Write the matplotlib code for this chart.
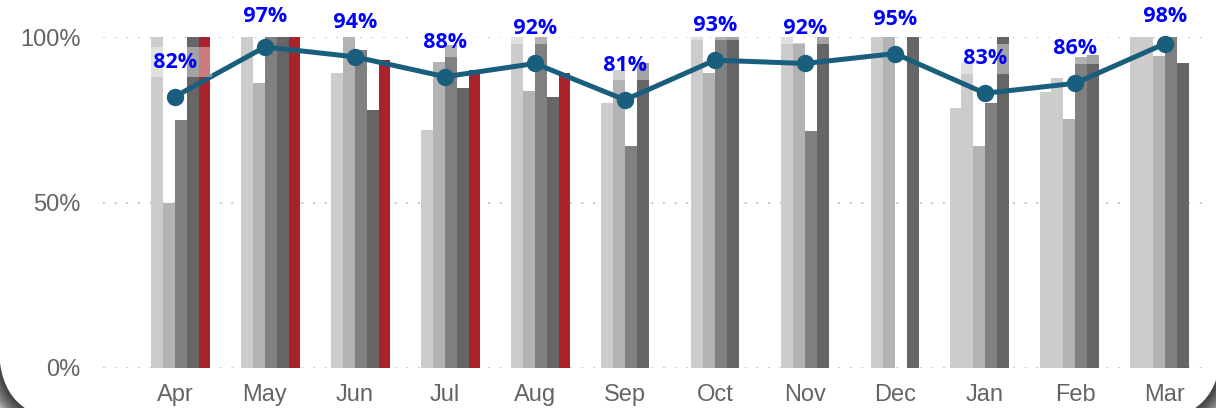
import matplotlib
matplotlib.use("Agg")
import matplotlib.pyplot as plt
from matplotlib.patches import FancyBboxPatch
import numpy as np

# months and the six bar series (None = no bar that month)
months = ["Apr", "May", "Jun", "Jul", "Aug", "Sep", "Oct", "Nov", "Dec", "Jan", "Feb", "Mar"]
s1 = [None, None, None, None, None, None, None, None, None, 78.5, 83.5, 100]
s2 = [100, 100, 89, 72, 100, 80, 100, 100, 100, 92.5, 87.7, 100]
s3 = [50, 86, 100, 92.4, 83.6, 90, 89, 98.3, 100, 67, 75.2, 94.2]
s4 = [75, 100, 96, 97.6, 100, 67, 100, 71.7, None, 80.2, 94, 100]
s5 = [100, 100, 78, 84.6, 82, 92, 100, 100, 100, 100, 94.7, 92]
s6 = [100, 100, 93, 90, 89, None, None, None, None, None, None, None]
# overall line
overall = [82, 97, 94, 88, 92, 81, 93, 92, 95, 83, 86, 98]

bar_series = [s1, s2, s3, s4, s5, s6]
bar_colors = ["#cccccc", "#cccccc", "#b3b3b3", "#808080", "#666666", "#a8232b"]
line_color = "#1a5e7e"

W, H = 1216, 408
fig = plt.figure(figsize=(W / 100, H / 100), dpi=100, facecolor="#d8d8d8")

# background card with a soft shadow at the corners
bg = fig.add_axes([0, 0, 1, 1], zorder=-5)
bg.set_xlim(0, W)
bg.set_ylim(H, 0)
bg.axis("off")
cx, cy, cw, ch, r = -1, -150, 1222, 570, 73
for d in range(18, 0, -1):
    bg.add_patch(FancyBboxPatch((cx - d, cy - d), cw + 2 * d, ch + 2 * d,
                                boxstyle=f"round,pad=0,rounding_size={r + d}",
                                fc="black", ec="none", alpha=0.06))
bg.add_patch(FancyBboxPatch((cx, cy), cw, ch,
                            boxstyle=f"round,pad=0,rounding_size={r}",
                            fc="white", ec="none"))

# main chart
ax = fig.add_axes([103 / W, (H - 368) / H, (1208 - 103) / W, (368 - 37) / H])
ax.set_facecolor("none")
x = np.arange(len(months))
n = len(bar_series)
bw = 0.787 / n
for i, (vals, col) in enumerate(zip(bar_series, bar_colors)):
    offs = (i - (n - 1) / 2) * bw
    xs = [xi + offs for xi, v in zip(x, vals) if v is not None]
    hs = [v / 100 for v in vals if v is not None]
    ax.bar(xs, hs, width=bw, color=col, zorder=2, linewidth=0)

ax.set_xlim(-0.8, 11.478)
ax.set_ylim(0, 1.0)

yv = np.array(overall) / 100
ax.plot(x, yv, color=line_color, lw=3.6, marker="o", markersize=11.5,
        zorder=3, clip_on=False)

# data labels sit ~29px above the point, but never closer than ~22px to the top edge
for xi, v in zip(x, overall):
    py = H - ax.transData.transform((xi, v / 100))[1]
    gap = min(29, py - 21.7)
    ax.annotate(f"  {v}%  ", (xi, v / 100), xytext=(0, gap * 0.72), textcoords="offset points",
                ha="center", va="baseline", color="#0000ff", fontsize=15.5,
                fontweight="bold", family=["Open Sans", "DejaVu Sans"], zorder=4,
                annotation_clip=False,
                bbox=dict(boxstyle="square,pad=0.2", fc="white", ec="none", alpha=0.4))

ax.set_yticks([0, 0.5, 1.0])
ax.set_yticklabels(["0%", "50%", "100%"])
ax.set_xticks(x)
ax.set_xticklabels(months)
for lab in ax.get_xticklabels() + ax.get_yticklabels():
    lab.set_family(["Liberation Sans", "DejaVu Sans"])
    lab.set_fontsize(17)
    lab.set_color("#646464")
ax.tick_params(axis="both", length=0)
ax.tick_params(axis="x", pad=11.5)
ax.tick_params(axis="y", pad=16)
for sp in ax.spines.values():
    sp.set_visible(False)
ax.grid(axis="y", color="#c8c8c8", lw=1.4, linestyle=(0, (1, 5)), zorder=0)
ax.set_axisbelow(True)

fig.savefig("out.png", dpi=100, facecolor=fig.get_facecolor())
